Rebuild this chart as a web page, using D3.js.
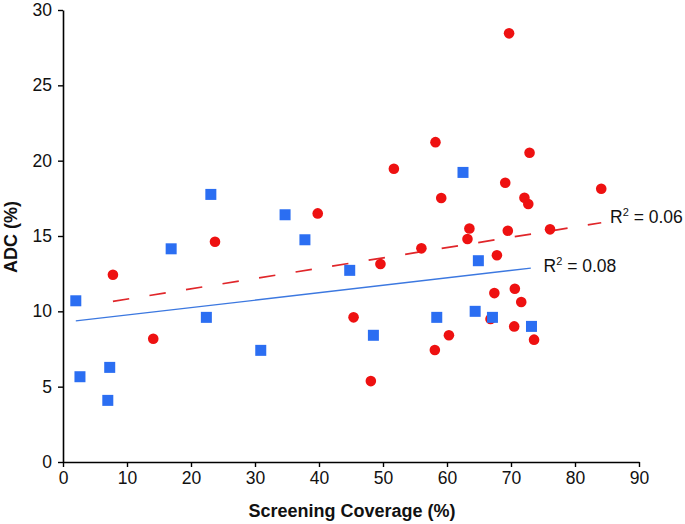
<!DOCTYPE html>
<html><head><meta charset="utf-8">
<script src="https://cdn.jsdelivr.net/npm/d3@7"></script>
<style>body{margin:0;background:#fff}svg{display:block}text{font-family:"Liberation Sans",Arial,sans-serif}</style>
</head><body>
<script>
// Blue squares
const blueX = [2.0, 2.65, 7.3, 7.0, 16.9, 22.4, 23.1, 30.9, 34.7, 37.8, 44.8, 48.5, 58.4, 62.5, 64.9, 64.4, 67.1, 73.2];
const blueY = [10.7, 5.66, 6.28, 4.09, 14.15, 9.6, 17.76, 7.41, 16.41, 14.75, 12.72, 8.41, 9.6, 19.22, 13.36, 10.0, 9.6, 9.0];
// Red circles
const redX = [7.8, 14.1, 23.75, 39.8, 45.4, 48.1, 49.6, 51.7, 56.0, 58.2, 58.1, 59.1, 60.3, 63.5, 63.2, 69.7, 72.9, 69.1, 72.1, 72.7, 84.1, 69.5, 76.1, 67.8, 67.4, 70.6, 71.6, 70.5, 73.6, 66.8];
const redY = [12.43, 8.18, 14.62, 16.5, 9.6, 5.37, 13.14, 19.46, 14.18, 21.23, 7.43, 17.52, 8.41, 15.5, 14.8, 28.45, 20.53, 18.53, 17.54, 17.12, 18.14, 15.35, 15.44, 13.72, 11.21, 11.5, 10.62, 9.0, 8.12, 9.49];
// Trend lines (endpoints)
const blueTrendX = [2.0, 73.1], blueTrendY = [9.36, 12.87];
const redTrendX = [7.8, 84.1], redTrendY = [10.66, 15.88];
const blueLabel = "0.08", redLabel = "0.06";
const xTicks = [0,10,20,30,40,50,60,70,80,90];
const yTicks = [0,5,10,15,20,25,30];

const W = 685, H = 524;
const svg = d3.select("body").append("svg").attr("width", W).attr("height", H);
const x = d3.scaleLinear().domain([0, 90]).range([63, 639]);
const y = d3.scaleLinear().domain([0, 30]).range([462, 10]);

const xa = svg.append("g").attr("transform", "translate(0,462)")
  .call(d3.axisBottom(x).tickValues(xTicks).tickSize(5).tickSizeOuter(0).tickPadding(5));
const ya = svg.append("g").attr("transform", "translate(63,0)")
  .call(d3.axisLeft(y).tickValues(yTicks).tickSize(5).tickSizeOuter(0).tickPadding(6));
[xa, ya].forEach(a => {
  a.select(".domain").attr("stroke", "#000").attr("stroke-width", 1.6);
  a.selectAll(".tick line").attr("stroke", "#000").attr("stroke-width", 1.4);
  a.selectAll("text").attr("font-size", 17.5).attr("fill", "#111").attr("font-family", "Liberation Sans, Arial, sans-serif");
});

// trend lines
svg.append("line").attr("x1", x(blueTrendX[0])).attr("y1", y(blueTrendY[0]))
  .attr("x2", x(blueTrendX[1])).attr("y2", y(blueTrendY[1]))
  .attr("stroke", "#3c78e0").attr("stroke-width", 1.3);
svg.append("line").attr("x1", x(redTrendX[0])).attr("y1", y(redTrendY[0]))
  .attr("x2", x(redTrendX[1])).attr("y2", y(redTrendY[1]))
  .attr("stroke", "#e0262a").attr("stroke-width", 1.7).attr("stroke-dasharray", "16.5,20.5");

// red circles
svg.append("g").selectAll("circle").data(redX.map((v,i)=>[v, redY[i]])).join("circle")
  .attr("cx", d=>x(d[0])).attr("cy", d=>y(d[1])).attr("r", 5.3).attr("fill", "#ee1111");
// blue squares
const s = 11;
svg.append("g").selectAll("rect").data(blueX.map((v,i)=>[v, blueY[i]])).join("rect")
  .attr("x", d=>x(d[0])-s/2).attr("y", d=>y(d[1])-s/2).attr("width", s).attr("height", s).attr("fill", "#2b6ef2");

// R² labels
function r2(xp, yp, val) {
  const t = svg.append("text").attr("x", xp).attr("y", yp).attr("font-size", 17.5).attr("fill", "#111");
  t.append("tspan").text("R");
  t.append("tspan").attr("font-size", 11).attr("dy", -7).text("2");
  t.append("tspan").attr("dy", 7).text(" = " + val);
}
r2(610, 223, redLabel);
r2(543.5, 272, blueLabel);

// axis titles
svg.append("text").attr("x", 352).attr("y", 517).attr("text-anchor", "middle")
  .attr("font-size", 18).attr("font-weight", "bold").attr("fill", "#111").text("Screening Coverage (%)");
svg.append("text").attr("transform", "translate(17,237) rotate(-90)").attr("text-anchor", "middle")
  .attr("font-size", 18).attr("font-weight", "bold").attr("fill", "#111").text("ADC (%)");
</script>
</body></html>
